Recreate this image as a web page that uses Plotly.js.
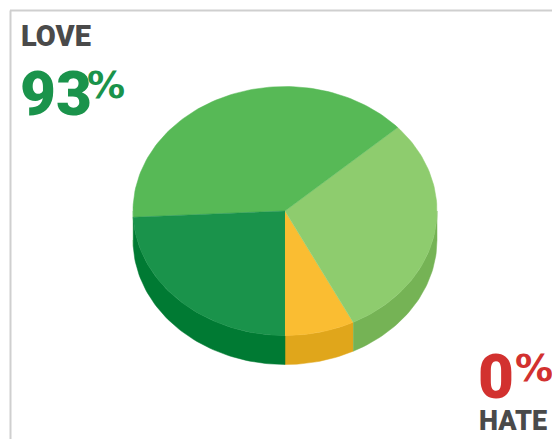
<!DOCTYPE html>
<html><head><meta charset="utf-8">
<script src="https://cdn.plot.ly/plotly-3.0.1.min.js"></script>
<style>html,body{margin:0;padding:0;background:#fff;overflow:hidden}</style>
</head><body><div id="chart" style="width:552px;height:439px"></div>
<script>
// Data (share of the pie, counter-clockwise from 6 o'clock)
const sliceNames = ['Yellow', 'Light green', 'Mid green', 'Dark green'];
const sliceValues = [7.4, 29.3, 39.1, 24.2];
const topColors = ['#FABD32', '#8ECC6E', '#57B956', '#1A934B'];
const wallColors = ['#E0A61B', '#75B355', '#57B956', '#007A33'];
const loveLabel = 'LOVE', lovePct = '93', hateLabel = 'HATE', hatePct = '0', pctSign = '%';

// Projection of the pie
const cx = 285, cy = 211, rx = 152, ry = 124.5, depth = 29;
const arc = (a, b, dy) => {
  const pts = [], n = Math.max(2, Math.ceil(Math.abs(b - a) / 1.5));
  for (let i = 0; i <= n; i++) {
    const t = (a + (b - a) * i / n) * Math.PI / 180;
    pts.push([cx + rx * Math.sin(t), cy + ry * Math.cos(t) + dy]);
  }
  return pts;
};
const poly = (pts, color, name) => ({
  type: 'scatter', mode: 'lines', x: pts.map(p => p[0]), y: pts.map(p => p[1]),
  fill: 'toself', fillcolor: color, line: {color: color, width: 0.5}, name, hoverinfo: 'name', showlegend: false
});
const traces = [], tops = [];
let acc = 0;
const total = sliceValues.reduce((s, v) => s + v, 0);
sliceValues.forEach((v, i) => {
  const a = acc / total * 360, b = (acc + v) / total * 360; acc += v;
  [[0, 90], [270, 360]].forEach(([lo, hi]) => {
    const s = Math.max(a, lo), e = Math.min(b, hi);
    if (e > s) {
      traces.push(poly(arc(s, e, 0).concat(arc(e, s, depth)), wallColors[i], sliceNames[i] + ' side'));
    }
  });
  tops.push(poly([[cx, cy]].concat(arc(a, b, 0)), topColors[i], sliceNames[i]));
});
const txt = (x, y, text, size, color, weight, family) => ({
  xref: 'x', yref: 'y', x, y, text, showarrow: false, xanchor: 'left', yanchor: 'middle',
  font: {family: family || 'Roboto, sans-serif', size, color, weight}
});
const pctFont = '"DejaVu Sans", sans-serif';
const layout = {
  width: 552, height: 439, margin: {l: 0, r: 0, t: 0, b: 0, pad: 0},
  paper_bgcolor: '#fff', plot_bgcolor: '#fff', showlegend: false,
  xaxis: {range: [0, 552], visible: false, fixedrange: true},
  yaxis: {range: [439, 0], visible: false, fixedrange: true},
  shapes: [
    {type: 'line', xref: 'x', yref: 'y', x0: 10.5, x1: 10.5, y0: 10.5, y1: 439, line: {color: '#cfcfcf', width: 2}},
    {type: 'line', xref: 'x', yref: 'y', x0: 10, x1: 552, y0: 10.5, y1: 10.5, line: {color: '#cfcfcf', width: 2}}
  ],
  annotations: [
    txt(19, 36, loveLabel, 29, '#4a4a4a', 900),
    txt(18, 93, lovePct, 62, '#1A934B', 900),
    txt(85, 85, pctSign, 38, '#1A934B', 700, pctFont),
    txt(476, 376, hatePct, 62, '#D2312F', 900),
    txt(513, 368, pctSign, 38, '#D2312F', 700, pctFont),
    txt(477, 421, hateLabel, 27, '#4a4a4a', 900)
  ]
};
Plotly.newPlot('chart', traces.concat(tops), layout, {displayModeBar: false, responsive: false});
</script></body></html>
